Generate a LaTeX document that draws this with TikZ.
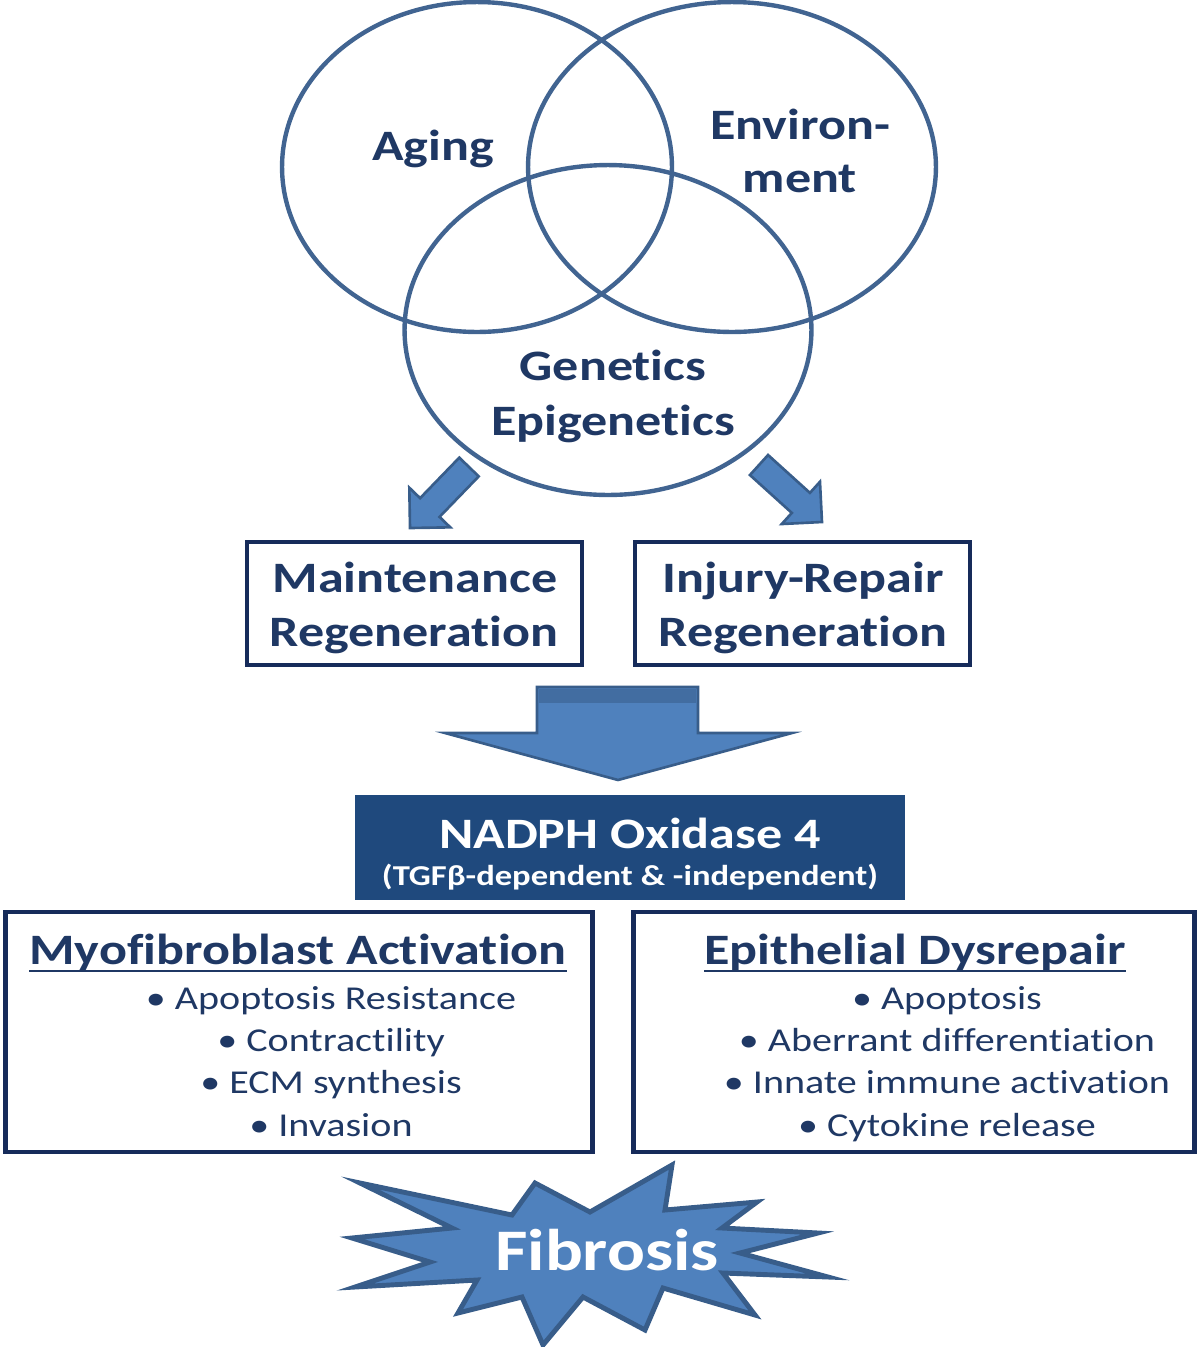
\documentclass[tikz,border=0pt]{standalone}
\usepackage{fontspec}
\setmainfont{Carlito}[FakeStretch=1.2, Ligatures=NoCommon]
\usetikzlibrary{shapes.geometric, calc}

\definecolor{vennline}{RGB}{65,100,145}
\definecolor{darktext}{RGB}{31,56,100}
\definecolor{boxline}{RGB}{22,43,90}
\definecolor{arrowfill}{RGB}{79,129,189}
\definecolor{arrowline}{RGB}{56,93,138}
\definecolor{noxfill}{RGB}{31,73,125}

\begin{document}
\begin{tikzpicture}[
    x=0.02cm, y=-0.02cm,
    every node/.style={inner sep=0pt, text=darktext},
    venn/.style={ellipse, draw=vennline, line width=2.5pt},
    bigword/.style={anchor=base, font=\fontsize{24.7}{30}\selectfont\bfseries},
    framebox/.style={rectangle, draw=boxline, line width=2.8pt},
    heading/.style={anchor=base, font=\fontsize{24.7}{30}\selectfont\bfseries},
    bullet/.style={anchor=base, font=\fontsize{19}{24}\selectfont},
    blockarrow/.style={fill=arrowfill, draw=arrowline, line width=1.5pt, line join=miter},
    burst/.style={fill=arrowfill, draw=arrowline, line width=2.8pt, line join=miter}
]
\useasboundingbox (0,0) rectangle (1200,1347);

% risk factors
\node[venn, minimum width=7.8cm, minimum height=6.6cm] (aging) at (477,167) {};
\node[venn, minimum width=8.16cm, minimum height=6.6cm] (environ) at (732,167) {};
\node[venn, minimum width=8.14cm, minimum height=6.6cm] (genetics) at (608,330) {};
\node[bigword] (aginglbl) at (433,160) {Aging};
\node[bigword] (envlbl1) at (800,139) {Environ-};
\node[bigword] (envlbl2) at (800,192) {ment};
\node[bigword] (genlbl1) at (613,380) {Genetics};
\node[bigword] (genlbl2) at (613,435) {Epigenetics};

% regeneration modes
\node[framebox, minimum width=6.7cm, minimum height=2.46cm] (maint) at (414.5,603.5) {};
\node[framebox, minimum width=6.7cm, minimum height=2.46cm] (injury) at (802.5,603.5) {};
\node[bigword] (maintlbl1) at (415,592) {Maintenance};
\node[bigword] (maintlbl2) at (414,646) {Regeneration};
\node[bigword] (injurylbl1) at (803,592) {Injury-Repair};
\node[bigword] (injurylbl2) at (803,646) {Regeneration};

\coordinate (ltail) at (469,467);
\coordinate (ltip) at (410,528);
\coordinate (rtail) at (759,465);
\coordinate (rtip) at (822,522);
\foreach \a/\b in {ltail/ltip, rtail/rtip} {
  \coordinate (hb) at ($(\b)!0.57cm!(\a)$);
  \draw[blockarrow] ($(\a)!0.27cm!90:(\b)$) -- ($(hb)!0.27cm!90:(\b)$) -- ($(hb)!0.57cm!90:(\b)$) -- (\b)
    -- ($(hb)!0.57cm!-90:(\b)$) -- ($(hb)!0.27cm!-90:(\b)$) -- ($(\a)!0.27cm!-90:(\b)$) -- cycle;
}

% big arrow down to NOX4
\draw[blockarrow] (537,687) -- (698,687) -- (698,733) -- (792,733) -- (618,780) -- (445,733) -- (537,733) -- cycle;
\fill[arrowline!55!arrowfill] (539,689) rectangle (696,703);

\node[rectangle, fill=noxfill, minimum width=11cm, minimum height=2.1cm] (nox) at (630,847.5) {};
\node[bigword, text=white] (noxlbl) at (630,848) {NADPH Oxidase 4};
\node[anchor=base, text=white, font=\fontsize{16.4}{20}\selectfont\bfseries] (noxsub) at (630,885) {(TGFβ-dependent \& -independent)};

% downstream effects
\node[framebox, minimum width=11.76cm, minimum height=4.8cm] (myo) at (299,1032) {};
\node[framebox, minimum width=11.24cm, minimum height=4.8cm] (epi) at (914,1032) {};
\node[heading] (myohead) at (298,964) {Myofibroblast Activation};
\node[heading] (epihead) at (915,964) {Epithelial Dysrepair};
\foreach \h in {myohead, epihead}
  \draw[darktext, line width=1.4pt] ([yshift=-0.14cm]\h.base west) -- ([yshift=-0.14cm]\h.base east);

\foreach \item [count=\i from 0] in {Apoptosis Resistance, Contractility, ECM synthesis, Invasion}
  \node[bullet] (myo\i) at (331,{1009+42.4*\i}) {• \item};
\foreach \item [count=\i from 0] in {Apoptosis, Aberrant differentiation, Innate immune activation, Cytokine release}
  \node[bullet] (epi\i) at (947,{1009+42.4*\i}) {• \item};

% outcome
\draw[burst] (360,1183) -- (512,1215) -- (535,1183) -- (590,1212) -- (672,1165) -- (665,1210) -- (757,1202)
  -- (722,1228) -- (818,1233) -- (740,1253) -- (828,1277) -- (723,1273) -- (755,1315) -- (663,1288)
  -- (645,1330) -- (583,1297) -- (543,1345) -- (522,1297) -- (458,1313) -- (477,1280) -- (355,1287)
  -- (430,1262) -- (352,1238) -- (452,1228) -- cycle;
\node[anchor=base, text=white, font=\fontsize{33.5}{40}\selectfont\bfseries] (fibrosis) at (607,1270) {Fibrosis};
\end{tikzpicture}
\end{document}
